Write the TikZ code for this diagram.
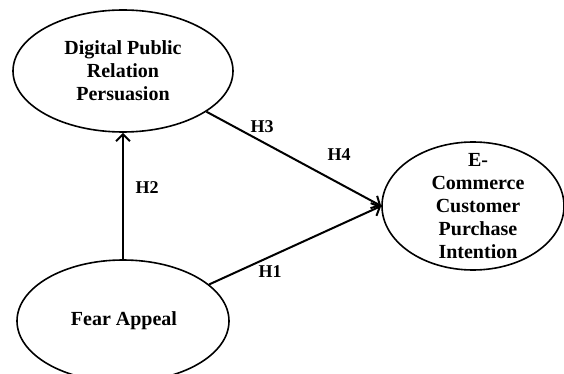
\documentclass[tikz,border=0pt]{standalone}
\usepackage{fontspec}
\setmainfont{Liberation Serif}
\usetikzlibrary{shapes.geometric, arrows.meta}
\tikzset{
	construct/.style = {draw, ellipse, line width=1.6pt, inner sep=0pt},
	caption/.style   = {font=\fontsize{20}{23}\selectfont\bfseries, align=center},
	hyp/.style       = {font=\fontsize{18}{20}\selectfont\bfseries},
	link/.style      = {line width=2pt, -{Straight Barb[length=7pt, width=14pt, line width=2pt]}},
}

\begin{document}
\begin{tikzpicture}[x=1pt, y=-1pt]
	\useasboundingbox (0,0) rectangle (564,374);
	
	% Draw the constructs
	\draw
	node[construct, minimum width=220pt, minimum height=122pt, label={[caption]center:Digital Public\\Relation\\Persuasion}] at (123,71) (dpr) {}
	node[construct, minimum width=182pt, minimum height=128pt, label={[caption, xshift=5pt]center:E-\\Commerce\\Customer\\Purchase\\Intention}] at (473,206) (intention) {}
	node[construct, minimum width=212pt, minimum height=122pt, label={[caption, xshift=1pt]center:Fear Appeal}] at (123,321) (fear) {};
	
	% Connect everything together
	\draw[link] (fear) -- (dpr);
	\draw[link] (dpr.-26) -- (intention.west);
	\draw[link] (fear.23) -- (intention.west);
	
	% Hypotheses
	\node[hyp] at (147,188) (h2) {H2};
	\node[hyp] at (262,127) (h3) {H3};
	\node[hyp] at (339,155) (h4) {H4};
	\node[hyp] at (270,272) (h1) {H1};
\end{tikzpicture}
\end{document}
